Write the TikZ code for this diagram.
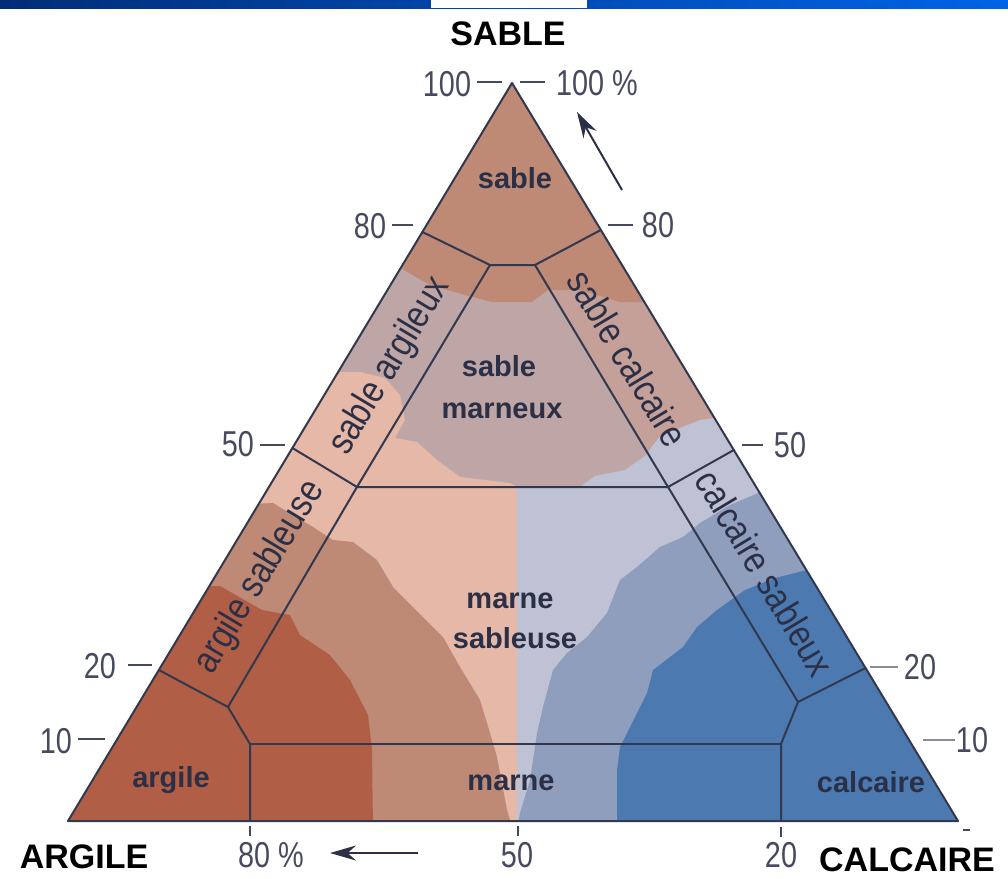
\documentclass[tikz,border=0pt]{standalone}
\usepackage{fontspec}
\setmainfont{Liberation Sans}
\newfontfamily\narrowfont[FakeStretch=0.8]{Liberation Sans}
\newfontfamily\bandfamily[FakeStretch=0.85]{Liberation Sans}
\usetikzlibrary{arrows.meta}
\definecolor{cArg}{RGB}{176,94,70}
\definecolor{cBrown}{RGB}{190,138,118}
\definecolor{cPink}{RGB}{230,184,168}
\definecolor{cMauve}{RGB}{190,166,166}
\definecolor{cBand}{RGB}{196,160,152}
\definecolor{cGrayA}{RGB}{190,194,212}
\definecolor{cGrayB}{RGB}{144,158,190}
\definecolor{cBlue}{RGB}{76,122,176}
\definecolor{lineC}{RGB}{50,56,78}
\definecolor{tickC}{RGB}{70,74,94}
\definecolor{tickL}{RGB}{140,140,150}
\definecolor{labC}{RGB}{44,48,70}
\definecolor{barL}{RGB}{0,45,120}
\definecolor{barR}{RGB}{0,100,230}
\newcommand{\myTick}{\narrowfont\fontsize{36}{36}\selectfont}
\newcommand{\myBig}{\bfseries\fontsize{34}{34}\selectfont}
\newcommand{\myReg}{\bfseries\fontsize{29}{29}\selectfont}
\newcommand{\myBand}{\bandfamily\fontsize{38}{38}\selectfont}
\tikzset{
  bline/.style={draw=lineC, line width=2pt, line join=round, line cap=round},
  tickline/.style={draw=tickC, line width=1.6pt},
  ticklab/.style={text=tickC, font=\myTick, inner sep=0pt},
  biglab/.style={text=black, font=\myBig, inner sep=0pt},
  reglab/.style={text=labC, font=\myReg, inner sep=0pt, anchor=base},
  bandlab/.style={text=labC, font=\myBand, inner sep=0pt},
  arr/.style={draw=labC, line width=2pt, -{Stealth[length=26pt,width=15pt]}}
}
\begin{document}
\begin{tikzpicture}[x=1pt,y=-1pt]
\useasboundingbox (0,0) rectangle (1008,878);
% top bar
\shade[left color=barL, right color=barR] (0,0) rectangle (1008,8);
\fill[white] (431,0) rectangle (587,8);
% main vertices and region points
\coordinate (T) at (512,83);
\coordinate (L) at (68,821);
\coordinate (R) at (958,821);
\coordinate (P1) at (422.4,232);
\coordinate (P2) at (490,265);
\coordinate (P3) at (535,265);
\coordinate (P4) at (600.8,230);
\coordinate (P5) at (292.4,448);
\coordinate (P6) at (357,487);
\coordinate (P7) at (668,487);
\coordinate (P8) at (733.8,450);
\coordinate (P9) at (158.9,670);
\coordinate (P10) at (228,707);
\coordinate (P11) at (250,744);
\coordinate (P12) at (250,821);
\coordinate (P13) at (865.5,668);
\coordinate (P14) at (798,702);
\coordinate (P15) at (781,744);
\coordinate (P16) at (781,821);
% colour field
\begin{scope}
\clip (T) -- (L) -- (R) -- cycle;
\fill[cMauve] (0,60) rectangle (1008,830);
\fill[cBand] (P3) -- (P4) -- (P8) -- (P7) -- cycle;
\fill[cBrown] (512,60) -- (390,262) -- (430,285) -- (465,295) -- (492,302) -- (532,302) -- (548,290) -- (580,290) -- (620,302) -- (670,302) -- (560,60) -- cycle;
\fill[cPink] (300,372) -- (360,372) -- (385,378) -- (400,395) -- (405,420) -- (395,438) -- (417,442) -- (437,460) -- (460,477) -- (510,483) -- (517,487) -- (517,830) -- (40,830) -- cycle;
\fill[cGrayA] (517,830) -- (517,487) -- (580,487) -- (595,476) -- (625,470) -- (645,456) -- (660,436) -- (680,428) -- (700,420) -- (740,414) -- (1000,414) -- (1000,830) -- cycle;
\fill[cGrayB] (517,830) -- (520,813) -- (530,780) -- (537,733) -- (543,707) -- (553,670) -- (567,653) -- (587,637) -- (607,613) -- (620,580) -- (637,567) -- (660,547) -- (683,537) -- (700,523) -- (730,505) -- (770,488) -- (1000,488) -- (1000,830) -- cycle;
\fill[cBlue] (617,830) -- (617,770) -- (620,747) -- (627,733) -- (637,713) -- (647,693) -- (653,670) -- (683,647) -- (697,627) -- (717,610) -- (745,590) -- (775,578) -- (815,568) -- (1000,568) -- (1000,830) -- cycle;
\fill[cBrown] (230,505) -- (273,503) -- (313,527) -- (333,540) -- (353,542) -- (377,560) -- (393,587) -- (413,607) -- (443,637) -- (460,667) -- (480,700) -- (490,733) -- (497,757) -- (507,810) -- (513,830) -- (40,830) -- cycle;
\fill[cArg] (180,586) -- (220,586) -- (262,610) -- (290,615) -- (300,635) -- (330,655) -- (350,680) -- (368,715) -- (372,750) -- (373,830) -- (40,830) -- cycle;
\end{scope}
% region boundaries
\draw[bline] (P1) -- (P2) -- (P3) -- (P4);
\draw[bline] (P2) -- (P6);
\draw[bline] (P3) -- (P7);
\draw[bline] (P5) -- (P6) -- (P7) -- (P8);
\draw[bline] (P6) -- (P10);
\draw[bline] (P9) -- (P10) -- (P11) -- (P12);
\draw[bline] (P7) -- (P14);
\draw[bline] (P13) -- (P14) -- (P15) -- (P16);
\draw[bline] (P11) -- (P15);
\draw[bline] (T) -- (L) -- (R) -- cycle;
% tick marks
\draw[tickline] (477,82) -- (502,82);
\draw[tickline] (392,225) -- (413,225);
\draw[tickline] (260,445) -- (285,445);
\draw[tickline] (128,665) -- (152,665);
\draw[tickline] (78,739) -- (105,739);
\draw[tickline] (520,82) -- (545,82);
\draw[tickline] (608,225) -- (633,225);
\draw[tickline] (742,445) -- (763,445);
\draw[tickline, draw=tickL, line width=1.2pt] (870,667) -- (898,667);
\draw[tickline, draw=tickL, line width=1.2pt] (923,740) -- (955,740);
\draw[tickline] (250,826) -- (250,836);
\draw[tickline] (518,826) -- (518,836);
\draw[tickline] (781,827) -- (781,837);
\draw[tickline] (963,830) -- (970,830);
% tick labels
\node[ticklab] (l100) at (447,84) {100};
\node[ticklab] (l80) at (370,226) {80};
\node[ticklab] (l50) at (238,444) {50};
\node[ticklab] (l20) at (100,666) {20};
\node[ticklab] (l10) at (56,741) {10};
\node[ticklab] (r100) at (597,83) {100 \%};
\node[ticklab] (r80) at (658,225) {80};
\node[ticklab] (r50) at (790,445) {50};
\node[ticklab] (r20) at (920,667) {20};
\node[ticklab] (r10) at (972,740) {10};
\node[ticklab] (b80) at (271,855) {80 \%};
\node[ticklab] (b50) at (517,855) {50};
\node[ticklab] (b20) at (781,855) {20};
% arrows
\coordinate (a1s) at (418,853);
\coordinate (a1e) at (330,853);
\coordinate (a2s) at (622,190);
\coordinate (a2e) at (577,112);
\draw[arr] (a1s) -- (a1e);
\draw[arr] (a2s) -- (a2e);
% corner titles
\node[biglab] (tS) at (508,34) {SABLE};
\node[biglab] (tA) at (84,857) {ARGILE};
\node[biglab] (tC) at (907,860) {CALCAIRE};
% region labels
\node[reglab] (rS) at (515,188) {sable};
\node[reglab] (rSM1) at (499,376) {sable};
\node[reglab] (rSM2) at (502,418) {marneux};
\node[reglab] (rMS1) at (510,608) {marne};
\node[reglab] (rMS2) at (515,648) {sableuse};
\node[reglab] (rM) at (511,790) {marne};
\node[reglab] (rA) at (171,787) {argile};
\node[reglab] (rC) at (871,792) {calcaire};
% band labels
\node[bandlab, rotate=59] (bSA) at (390,366) {sable argileux};
\node[bandlab, rotate=59] (bAS) at (260,577) {argile sableuse};
\node[bandlab, rotate=-59] (bSC) at (628,358) {sable calcaire};
\node[bandlab, rotate=-59] (bCS) at (765,573) {calcaire sableux};
\end{tikzpicture}
\end{document}
